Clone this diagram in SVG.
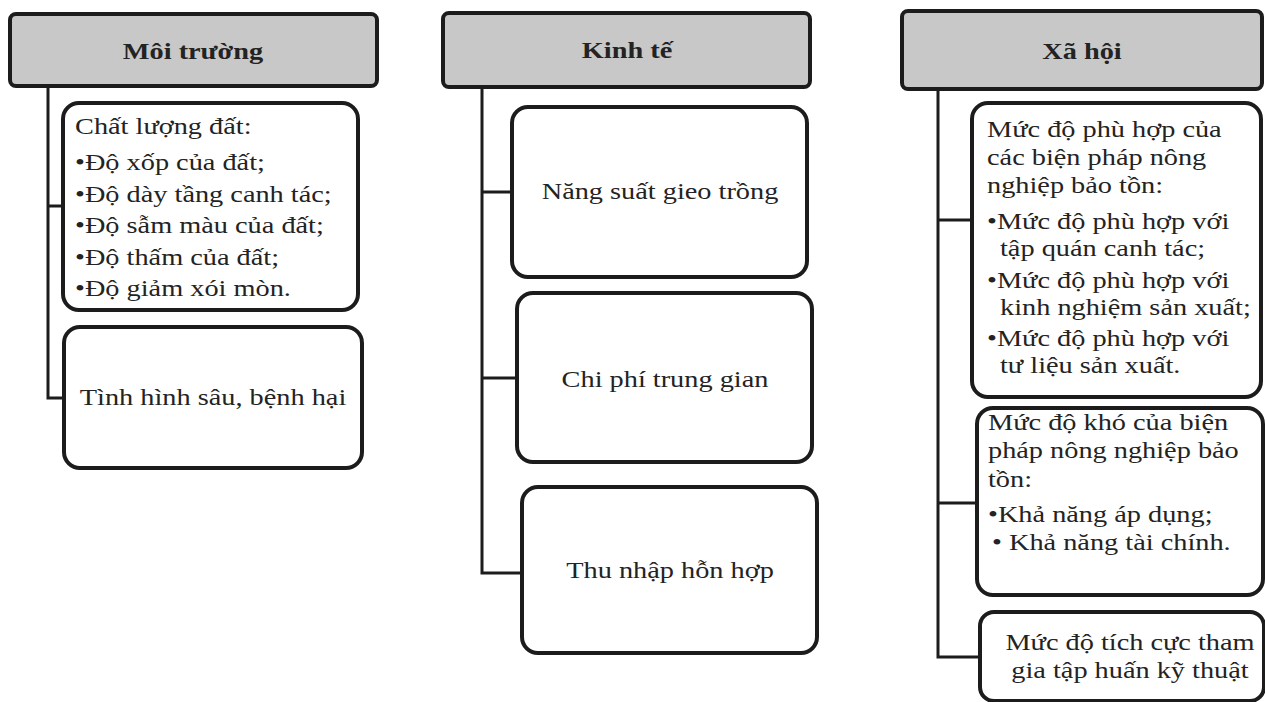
<svg xmlns="http://www.w3.org/2000/svg" width="1265" height="702" viewBox="0 0 1265 702">
<style>
.bg{fill:#ffffff}
.box{fill:#ffffff;stroke:#1c1c1c;stroke-width:4}
.hdr{fill:#c8c8c8;stroke:#1c1c1c;stroke-width:4}
.t{font-family:"Liberation Serif","Times New Roman",serif;font-size:24px;fill:#232323}
.b{font-weight:bold}
.m{text-anchor:middle}
.con{fill:none;stroke:#1c1c1c;stroke-width:3}
</style>
<rect class="bg" x="0" y="0" width="1265" height="702"/>
<g id="connectors">
<path class="con" d="M48,86 V398 H64 M48,206 H63"/>
<path class="con" d="M482,87 V573 H522 M482,192 H512 M482,378 H517"/>
<path class="con" d="M938,89 V657 H980 M938,220 H972 M938,503 H977"/>
</g>
<g id="moi-truong">
<rect class="hdr" x="10" y="14" width="367" height="72" rx="6"/>
<text class="t b m" transform="translate(193,59) scale(1.18,1)">Môi trường</text>
</g>
<g id="chat-luong-dat">
<rect class="box" x="63" y="103" width="295" height="207" rx="16"/>
<text class="t" transform="translate(75,134) scale(1.18,1)">Chất lượng đất:</text>
<text class="t" transform="translate(75,170) scale(1.18,1)">•Độ xốp của đất;</text>
<text class="t" transform="translate(75,201.5) scale(1.18,1)">•Độ dày tầng canh tác;</text>
<text class="t" transform="translate(75,233) scale(1.18,1)">•Độ sẫm màu của đất;</text>
<text class="t" transform="translate(75,264.5) scale(1.18,1)">•Độ thấm của đất;</text>
<text class="t" transform="translate(75,296) scale(1.18,1)">•Độ giảm xói mòn.</text>
</g>
<g id="sau-benh">
<rect class="box" x="64" y="327" width="298" height="141" rx="16"/>
<text class="t m" transform="translate(213,405) scale(1.18,1)">Tình hình sâu, bệnh hại</text>
</g>
<g id="kinh-te">
<rect class="hdr" x="443" y="13" width="367" height="74" rx="6"/>
<text class="t b m" transform="translate(627,58) scale(1.18,1)">Kinh tế</text>
</g>
<g id="nang-suat">
<rect class="box" x="512" y="107" width="295" height="170" rx="16"/>
<text class="t m" transform="translate(660,199) scale(1.18,1)">Năng suất gieo trồng</text>
</g>
<g id="chi-phi">
<rect class="box" x="517" y="293" width="295" height="169" rx="16"/>
<text class="t m" transform="translate(665,387) scale(1.18,1)">Chi phí trung gian</text>
</g>
<g id="thu-nhap">
<rect class="box" x="522" y="487" width="295" height="166" rx="16"/>
<text class="t m" transform="translate(670,578) scale(1.18,1)">Thu nhập hỗn hợp</text>
</g>
<g id="xa-hoi">
<rect class="hdr" x="902" y="11" width="360" height="78" rx="6"/>
<text class="t b m" transform="translate(1082,59) scale(1.18,1)">Xã hội</text>
</g>
<g id="muc-do-phu-hop">
<rect class="box" x="972" y="103" width="289" height="294" rx="16"/>
<text class="t" transform="translate(987,137) scale(1.18,1)">Mức độ phù hợp của</text>
<text class="t" transform="translate(987,165) scale(1.18,1)">các biện pháp nông</text>
<text class="t" transform="translate(987,193) scale(1.18,1)">nghiệp bảo tồn:</text>
<text class="t" transform="translate(987,229) scale(1.18,1)">•Mức độ phù hợp với</text>
<text class="t" transform="translate(1000,256) scale(1.18,1)">tập quán canh tác;</text>
<text class="t" transform="translate(987,288) scale(1.18,1)">•Mức độ phù hợp với</text>
<text class="t" transform="translate(1000,315) scale(1.18,1)">kinh nghiệm sản xuất;</text>
<text class="t" transform="translate(987,346) scale(1.18,1)">•Mức độ phù hợp với</text>
<text class="t" transform="translate(1000,373) scale(1.18,1)">tư liệu sản xuất.</text>
</g>
<g id="muc-do-kho">
<rect class="box" x="977" y="408" width="286" height="187" rx="16"/>
<text class="t" transform="translate(988,430) scale(1.18,1)">Mức độ khó của biện</text>
<text class="t" transform="translate(988,458) scale(1.18,1)">pháp nông nghiệp bảo</text>
<text class="t" transform="translate(988,487) scale(1.18,1)">tồn:</text>
<text class="t" transform="translate(988,522) scale(1.18,1)">•Khả năng áp dụng;</text>
<text class="t" transform="translate(992,550) scale(1.18,1)">• Khả năng tài chính.</text>
</g>
<g id="tap-huan">
<rect class="box" x="980" y="612" width="284" height="89" rx="14"/>
<text class="t m" transform="translate(1130,650) scale(1.18,1)">Mức độ tích cực tham</text>
<text class="t m" transform="translate(1130,678) scale(1.18,1)">gia tập huấn kỹ thuật</text>
</g>
</svg>
